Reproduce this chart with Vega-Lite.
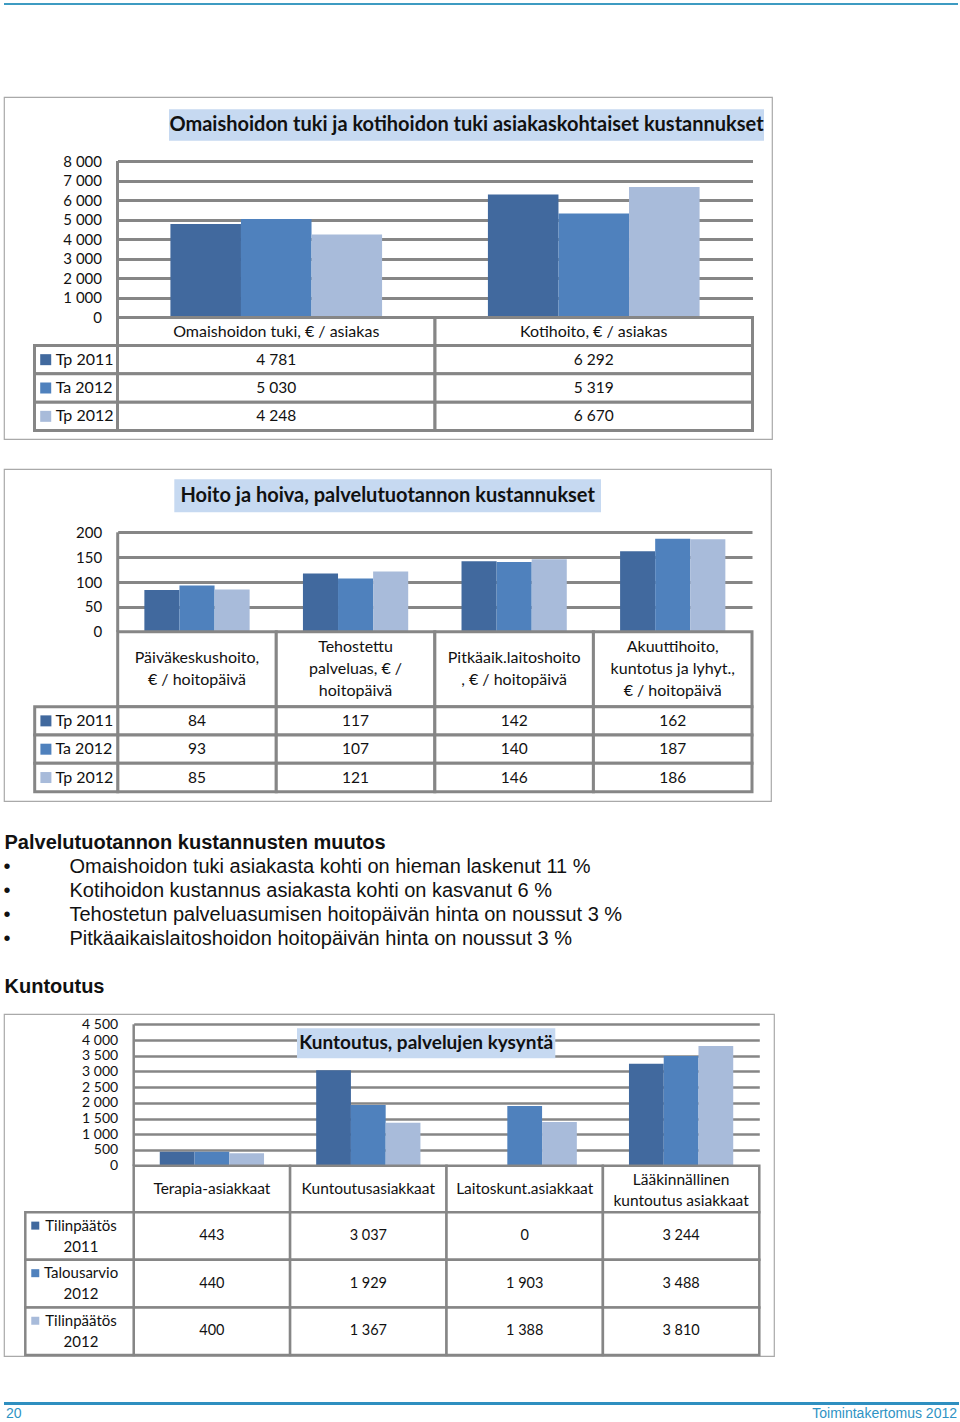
{
"$schema":"https://vega.github.io/schema/vega-lite/v6.json",
"padding":{"left":3,"top":0,"right":0,"bottom":0},
"background":"white",
"spacing":0,
"bounds":"flush",
"resolve":{"scale":{"xOffset":"independent"}},
"config":{"view":{"stroke":"#a9a9a9","strokeWidth":1.2},"locale":{"number":{"decimal":",","thousands":" ","grouping":[3],"currency":["","€"]}}},
"datasets":{
"d1":[
{"cat":"Omaishoidon tuki, € / asiakas","series":"Tp 2011","value":4781},
{"cat":"Omaishoidon tuki, € / asiakas","series":"Ta 2012","value":5030},
{"cat":"Omaishoidon tuki, € / asiakas","series":"Tp 2012","value":4248},
{"cat":"Kotihoito, € / asiakas","series":"Tp 2011","value":6292},
{"cat":"Kotihoito, € / asiakas","series":"Ta 2012","value":5319},
{"cat":"Kotihoito, € / asiakas","series":"Tp 2012","value":6670}],
"d2":[
{"cat":"Päiväkeskushoito,\n€ / hoitopäivä","series":"Tp 2011","value":84},
{"cat":"Päiväkeskushoito,\n€ / hoitopäivä","series":"Ta 2012","value":93},
{"cat":"Päiväkeskushoito,\n€ / hoitopäivä","series":"Tp 2012","value":85},
{"cat":"Tehostettu\npalveluas, € /\nhoitopäivä","series":"Tp 2011","value":117},
{"cat":"Tehostettu\npalveluas, € /\nhoitopäivä","series":"Ta 2012","value":107},
{"cat":"Tehostettu\npalveluas, € /\nhoitopäivä","series":"Tp 2012","value":121},
{"cat":"Pitkäaik.laitoshoito\n, € / hoitopäivä","series":"Tp 2011","value":142},
{"cat":"Pitkäaik.laitoshoito\n, € / hoitopäivä","series":"Ta 2012","value":140},
{"cat":"Pitkäaik.laitoshoito\n, € / hoitopäivä","series":"Tp 2012","value":146},
{"cat":"Akuuttihoito,\nkuntotus ja lyhyt.,\n€ / hoitopäivä","series":"Tp 2011","value":162},
{"cat":"Akuuttihoito,\nkuntotus ja lyhyt.,\n€ / hoitopäivä","series":"Ta 2012","value":187},
{"cat":"Akuuttihoito,\nkuntotus ja lyhyt.,\n€ / hoitopäivä","series":"Tp 2012","value":186}],
"d3":[
{"cat":"Terapia-asiakkaat","series":"Tilinpäätös\n2011","value":443},
{"cat":"Terapia-asiakkaat","series":"Talousarvio\n2012","value":440},
{"cat":"Terapia-asiakkaat","series":"Tilinpäätös\n2012","value":400},
{"cat":"Kuntoutusasiakkaat","series":"Tilinpäätös\n2011","value":3037},
{"cat":"Kuntoutusasiakkaat","series":"Talousarvio\n2012","value":1929},
{"cat":"Kuntoutusasiakkaat","series":"Tilinpäätös\n2012","value":1367},
{"cat":"Laitoskunt.asiakkaat","series":"Tilinpäätös\n2011","value":0},
{"cat":"Laitoskunt.asiakkaat","series":"Talousarvio\n2012","value":1903},
{"cat":"Laitoskunt.asiakkaat","series":"Tilinpäätös\n2012","value":1388},
{"cat":"Lääkinnällinen\nkuntoutus asiakkaat","series":"Tilinpäätös\n2011","value":3244},
{"cat":"Lääkinnällinen\nkuntoutus asiakkaat","series":"Talousarvio\n2012","value":3488},
{"cat":"Lääkinnällinen\nkuntoutus asiakkaat","series":"Tilinpäätös\n2012","value":3810}],
"bul":[
{"t":"Omaishoidon tuki asiakasta kohti on hieman laskenut 11 %"},
{"t":"Kotihoidon kustannus asiakasta kohti on kasvanut 6 %"},
{"t":"Tehostetun palveluasumisen hoitopäivän hinta on noussut 3 %"},
{"t":"Pitkäaikaislaitoshoidon hoitopäivän hinta on noussut 3 %"}],
"foot":[{"t":"20"},{"t":"Toimintakertomus 2012"}]
},
"vconcat":[
{"width":950,"height":3,"view":{"stroke":null},"data":{"values":[]},"mark":"point","encoding":{}},
{"width":954,"height":2,"view":{"stroke":null,"fill":"#3d9bc2"},"data":{"values":[]},"mark":"point","encoding":{}},
{"width":950,"height":92,"view":{"stroke":null},"data":{"values":[]},"mark":"point","encoding":{}},

{"width":768,"height":342,
"resolve":{"scale":{"x":"independent","y":"independent"}},
"layer":[
{"data":{"name":"d1"},"mark":{"type":"bar"},
"encoding":{
"x":{"field":"cat","type":"nominal","scale":{"type":"band","domain":["Omaishoidon tuki, € / asiakas","Kotihoito, € / asiakas"],"range":[113.5,748.5],"paddingInner":0,"paddingOuter":0},"axis":null},
"xOffset":{"field":"series","type":"nominal","scale":{"type":"band","domain":["Tp 2011","Ta 2012","Tp 2012"],"range":[0,317.5],"paddingInner":0,"paddingOuter":0.75}},
"y":{"field":"value","type":"quantitative","scale":{"domain":[0,8000],"range":[220.5,64],"nice":false,"zero":true},
"axis":{"values":[0,1000,2000,3000,4000,5000,6000,7000,8000],"labelExpr":"replace(format(datum.value, ','), ',', ' ')","title":null,"grid":true,"gridColor":"#868686","gridWidth":3,"domain":false,"ticks":false,"labelPadding":-97.5,"labelAlign":"right","labelFont":"Lato","labelFontSize":15,"labelColor":"#111"}},
"color":{"field":"series","type":"nominal","scale":{"domain":["Tp 2011","Ta 2012","Tp 2012","Tilinpäätös\n2011","Talousarvio\n2012","Tilinpäätös\n2012"],"range":["#41699e","#4f81bd","#a8bbda","#41699e","#4f81bd","#a8bbda"]},"legend":null}}},
{"data":{"values":[{"title":"Omaishoidon tuki ja kotihoidon tuki asiakaskohtaiset kustannukset"}]},
"mark":{"type":"rect","fill":"#c6d9f1"},
"encoding":{"x":{"field":"title","type":"nominal","scale":{"type":"band","range":[165,760],"paddingInner":0,"paddingOuter":0},"axis":null},
"y":{"field":"title","type":"nominal","scale":{"type":"band","range":[12.3,43.7],"paddingInner":0,"paddingOuter":0},"axis":null}}},
{"data":{"values":[{"title":"Omaishoidon tuki ja kotihoidon tuki asiakaskohtaiset kustannukset"}]},
"mark":{"type":"text","font":"Lato","fontSize":20,"fontWeight":"bold","color":"#111"},
"encoding":{"x":{"field":"title","type":"nominal","scale":{"type":"band","range":[165,760],"paddingInner":0,"paddingOuter":0},"axis":null},
"y":{"field":"title","type":"nominal","scale":{"type":"band","range":[12.3,43.7],"paddingInner":0,"paddingOuter":0},"axis":null},
"text":{"field":"title"}}},
{"data":{"name":"d1"},"transform":[{"filter":"datum.series==='Tp 2011'"}],
"mark":{"type":"rect","fill":"white","stroke":"#868686","strokeWidth":3},
"encoding":{"x":{"field":"cat","type":"nominal","scale":{"type":"band","domain":["Omaishoidon tuki, € / asiakas","Kotihoito, € / asiakas"],"range":[113.5,748.5],"paddingInner":0,"paddingOuter":0},"axis":null},
"y":{"datum":"hdr","type":"nominal","scale":{"type":"band","domain":["hdr"],"range":[220.5,248.5],"paddingInner":0,"paddingOuter":0},"axis":null}}},
{"data":{"name":"d1"},"transform":[{"filter":"datum.series==='Tp 2011'"}],
"mark":{"type":"text","font":"Lato","fontSize":16,"color":"#111"},
"encoding":{"x":{"field":"cat","type":"nominal","scale":{"type":"band","domain":["Omaishoidon tuki, € / asiakas","Kotihoito, € / asiakas"],"range":[113.5,748.5],"paddingInner":0,"paddingOuter":0},"axis":null},
"y":{"datum":"hdr","type":"nominal","scale":{"type":"band","domain":["hdr"],"range":[220.5,248.5],"paddingInner":0,"paddingOuter":0},"axis":null},
"text":{"field":"cat"}}},
{"data":{"name":"d1"},
"mark":{"type":"rect","fill":"white","stroke":"#868686","strokeWidth":3},
"encoding":{"x":{"field":"cat","type":"nominal","scale":{"type":"band","domain":["Omaishoidon tuki, € / asiakas","Kotihoito, € / asiakas"],"range":[113.5,748.5],"paddingInner":0,"paddingOuter":0},"axis":null},
"y":{"field":"series","type":"nominal","scale":{"type":"band","domain":["Tp 2011","Ta 2012","Tp 2012"],"range":[248.5,333.5],"paddingInner":0,"paddingOuter":0},"axis":null}}},
{"data":{"name":"d1"},
"mark":{"type":"text","font":"Lato","fontSize":15.5,"color":"#111"},
"encoding":{"x":{"field":"cat","type":"nominal","scale":{"type":"band","domain":["Omaishoidon tuki, € / asiakas","Kotihoito, € / asiakas"],"range":[113.5,748.5],"paddingInner":0,"paddingOuter":0},"axis":null},
"y":{"field":"series","type":"nominal","scale":{"type":"band","domain":["Tp 2011","Ta 2012","Tp 2012"],"range":[248.5,333.5],"paddingInner":0,"paddingOuter":0},"axis":null},
"text":{"field":"value","type":"quantitative","format":","}}},
{"data":{"name":"d1"},"transform":[{"filter":"datum.cat==='Kotihoito, € / asiakas'"}],
"mark":{"type":"rect","fill":"white","stroke":"#868686","strokeWidth":3},
"encoding":{"x":{"datum":"lab","type":"nominal","scale":{"type":"band","domain":["lab"],"range":[30.5,113.5],"paddingInner":0,"paddingOuter":0},"axis":null},
"y":{"field":"series","type":"nominal","scale":{"type":"band","domain":["Tp 2011","Ta 2012","Tp 2012"],"range":[248.5,333.5],"paddingInner":0,"paddingOuter":0},"axis":null}}},
{"data":{"name":"d1"},"transform":[{"filter":"datum.cat==='Kotihoito, € / asiakas'"}],
"mark":{"type":"point","shape":"square","filled":true,"opacity":1,"size":121},
"encoding":{"x":{"datum":"lab","type":"nominal","bandPosition":0.135,"scale":{"type":"band","domain":["lab"],"range":[30.5,113.5],"paddingInner":0,"paddingOuter":0},"axis":null},
"y":{"field":"series","type":"nominal","scale":{"type":"band","domain":["Tp 2011","Ta 2012","Tp 2012"],"range":[248.5,333.5],"paddingInner":0,"paddingOuter":0},"axis":null},
"color":{"field":"series","type":"nominal","scale":{"domain":["Tp 2011","Ta 2012","Tp 2012","Tilinpäätös\n2011","Talousarvio\n2012","Tilinpäätös\n2012"],"range":["#41699e","#4f81bd","#a8bbda","#41699e","#4f81bd","#a8bbda"]},"legend":null}}},
{"data":{"name":"d1"},"transform":[{"filter":"datum.cat==='Kotihoito, € / asiakas'"}],
"mark":{"type":"text","align":"left","font":"Lato","fontSize":16,"color":"#111"},
"encoding":{"x":{"datum":"lab","type":"nominal","bandPosition":0.255,"scale":{"type":"band","domain":["lab"],"range":[30.5,113.5],"paddingInner":0,"paddingOuter":0},"axis":null},
"y":{"field":"series","type":"nominal","scale":{"type":"band","domain":["Tp 2011","Ta 2012","Tp 2012"],"range":[248.5,333.5],"paddingInner":0,"paddingOuter":0},"axis":null},
"text":{"field":"series"}}},
{"data":{"name":"d1"},"transform":[{"filter":"datum.series==='Tp 2011'"},{"filter":"datum.cat==='Omaishoidon tuki, € / asiakas'"}],
"mark":{"type":"rule","color":"#868686","strokeWidth":3},
"encoding":{"x":{"field":"cat","type":"nominal","bandPosition":0,"scale":{"type":"band","domain":["Omaishoidon tuki, € / asiakas","Kotihoito, € / asiakas"],"range":[113.5,748.5],"paddingInner":0,"paddingOuter":0},"axis":null},
"y":{"datum":0,"type":"quantitative","scale":{"domain":[0,8000],"range":[220.5,64],"nice":false,"zero":true},"axis":null},
"y2":{"datum":8000}}}
]},

{"width":950,"height":30,"view":{"stroke":null},"data":{"values":[]},"mark":"point","encoding":{}},

{"width":767,"height":332,
"resolve":{"scale":{"x":"independent","y":"independent"}},
"layer":[
{"data":{"name":"d2"},"mark":{"type":"bar"},
"encoding":{
"x":{"field":"cat","type":"nominal","scale":{"type":"band","domain":["Päiväkeskushoito,\n€ / hoitopäivä","Tehostettu\npalveluas, € /\nhoitopäivä","Pitkäaik.laitoshoito\n, € / hoitopäivä","Akuuttihoito,\nkuntotus ja lyhyt.,\n€ / hoitopäivä"],"range":[113.7,748],"paddingInner":0,"paddingOuter":0},"axis":null},
"xOffset":{"field":"series","type":"nominal","scale":{"type":"band","domain":["Tp 2011","Ta 2012","Tp 2012"],"range":[0,158.6],"paddingInner":0,"paddingOuter":0.76}},
"y":{"field":"value","type":"quantitative","scale":{"domain":[0,200],"range":[162.7,63.3],"nice":false,"zero":true},
"axis":{"values":[0,50,100,150,200],"labelExpr":"replace(format(datum.value, ','), ',', ' ')","title":null,"grid":true,"gridColor":"#868686","gridWidth":3,"domain":false,"ticks":false,"labelPadding":-97.7,"labelAlign":"right","labelFont":"Lato","labelFontSize":15,"labelColor":"#111"}},
"color":{"field":"series","type":"nominal","scale":{"domain":["Tp 2011","Ta 2012","Tp 2012","Tilinpäätös\n2011","Talousarvio\n2012","Tilinpäätös\n2012"],"range":["#41699e","#4f81bd","#a8bbda","#41699e","#4f81bd","#a8bbda"]},"legend":null}}},
{"data":{"values":[{"title":"Hoito ja hoiva, palvelutuotannon kustannukset"}]},
"mark":{"type":"rect","fill":"#c6d9f1"},
"encoding":{"x":{"field":"title","type":"nominal","scale":{"type":"band","range":[170.3,597],"paddingInner":0,"paddingOuter":0},"axis":null},
"y":{"field":"title","type":"nominal","scale":{"type":"band","range":[10.3,43.3],"paddingInner":0,"paddingOuter":0},"axis":null}}},
{"data":{"values":[{"title":"Hoito ja hoiva, palvelutuotannon kustannukset"}]},
"mark":{"type":"text","font":"Lato","fontSize":20,"fontWeight":"bold","color":"#111"},
"encoding":{"x":{"field":"title","type":"nominal","scale":{"type":"band","range":[170.3,597],"paddingInner":0,"paddingOuter":0},"axis":null},
"y":{"field":"title","type":"nominal","scale":{"type":"band","range":[10.3,43.3],"paddingInner":0,"paddingOuter":0},"axis":null},
"text":{"field":"title"}}},
{"data":{"name":"d2"},"transform":[{"filter":"datum.series==='Tp 2011'"}],
"mark":{"type":"rect","fill":"white","stroke":"#868686","strokeWidth":3},
"encoding":{"x":{"field":"cat","type":"nominal","scale":{"type":"band","domain":["Päiväkeskushoito,\n€ / hoitopäivä","Tehostettu\npalveluas, € /\nhoitopäivä","Pitkäaik.laitoshoito\n, € / hoitopäivä","Akuuttihoito,\nkuntotus ja lyhyt.,\n€ / hoitopäivä"],"range":[113.7,748],"paddingInner":0,"paddingOuter":0},"axis":null},
"y":{"datum":"hdr","type":"nominal","scale":{"type":"band","domain":["hdr"],"range":[162.7,237.7],"paddingInner":0,"paddingOuter":0},"axis":null}}},
{"data":{"name":"d2"},"transform":[{"filter":"datum.series==='Tp 2011'"},{"filter":{"field":"cat","oneOf":["Päiväkeskushoito,\n€ / hoitopäivä","Pitkäaik.laitoshoito\n, € / hoitopäivä"]}}],
"mark":{"type":"text","font":"Lato","fontSize":16,"color":"#111","lineBreak":"\n","lineHeight":22},
"encoding":{"x":{"field":"cat","type":"nominal","scale":{"type":"band","domain":["Päiväkeskushoito,\n€ / hoitopäivä","Tehostettu\npalveluas, € /\nhoitopäivä","Pitkäaik.laitoshoito\n, € / hoitopäivä","Akuuttihoito,\nkuntotus ja lyhyt.,\n€ / hoitopäivä"],"range":[113.7,748],"paddingInner":0,"paddingOuter":0},"axis":null},
"y":{"datum":"hdr","type":"nominal","bandPosition":0.35,"scale":{"type":"band","domain":["hdr"],"range":[162.7,237.7],"paddingInner":0,"paddingOuter":0},"axis":null},
"text":{"field":"cat"}}},
{"data":{"name":"d2"},"transform":[{"filter":"datum.series==='Tp 2011'"},{"filter":{"field":"cat","oneOf":["Tehostettu\npalveluas, € /\nhoitopäivä","Akuuttihoito,\nkuntotus ja lyhyt.,\n€ / hoitopäivä"]}}],
"mark":{"type":"text","font":"Lato","fontSize":16,"color":"#111","lineBreak":"\n","lineHeight":22},
"encoding":{"x":{"field":"cat","type":"nominal","scale":{"type":"band","domain":["Päiväkeskushoito,\n€ / hoitopäivä","Tehostettu\npalveluas, € /\nhoitopäivä","Pitkäaik.laitoshoito\n, € / hoitopäivä","Akuuttihoito,\nkuntotus ja lyhyt.,\n€ / hoitopäivä"],"range":[113.7,748],"paddingInner":0,"paddingOuter":0},"axis":null},
"y":{"datum":"hdr","type":"nominal","bandPosition":0.205,"scale":{"type":"band","domain":["hdr"],"range":[162.7,237.7],"paddingInner":0,"paddingOuter":0},"axis":null},
"text":{"field":"cat"}}},
{"data":{"name":"d2"},
"mark":{"type":"rect","fill":"white","stroke":"#868686","strokeWidth":3},
"encoding":{"x":{"field":"cat","type":"nominal","scale":{"type":"band","domain":["Päiväkeskushoito,\n€ / hoitopäivä","Tehostettu\npalveluas, € /\nhoitopäivä","Pitkäaik.laitoshoito\n, € / hoitopäivä","Akuuttihoito,\nkuntotus ja lyhyt.,\n€ / hoitopäivä"],"range":[113.7,748],"paddingInner":0,"paddingOuter":0},"axis":null},
"y":{"field":"series","type":"nominal","scale":{"type":"band","domain":["Tp 2011","Ta 2012","Tp 2012"],"range":[237.7,322.7],"paddingInner":0,"paddingOuter":0},"axis":null}}},
{"data":{"name":"d2"},
"mark":{"type":"text","font":"Lato","fontSize":15.5,"color":"#111"},
"encoding":{"x":{"field":"cat","type":"nominal","scale":{"type":"band","domain":["Päiväkeskushoito,\n€ / hoitopäivä","Tehostettu\npalveluas, € /\nhoitopäivä","Pitkäaik.laitoshoito\n, € / hoitopäivä","Akuuttihoito,\nkuntotus ja lyhyt.,\n€ / hoitopäivä"],"range":[113.7,748],"paddingInner":0,"paddingOuter":0},"axis":null},
"y":{"field":"series","type":"nominal","scale":{"type":"band","domain":["Tp 2011","Ta 2012","Tp 2012"],"range":[237.7,322.7],"paddingInner":0,"paddingOuter":0},"axis":null},
"text":{"field":"value","type":"quantitative","format":","}}},
{"data":{"name":"d2"},"transform":[{"filter":{"field":"cat","equal":"Päiväkeskushoito,\n€ / hoitopäivä"}}],
"mark":{"type":"rect","fill":"white","stroke":"#868686","strokeWidth":3},
"encoding":{"x":{"datum":"lab","type":"nominal","scale":{"type":"band","domain":["lab"],"range":[30.7,113.7],"paddingInner":0,"paddingOuter":0},"axis":null},
"y":{"field":"series","type":"nominal","scale":{"type":"band","domain":["Tp 2011","Ta 2012","Tp 2012"],"range":[237.7,322.7],"paddingInner":0,"paddingOuter":0},"axis":null}}},
{"data":{"name":"d2"},"transform":[{"filter":{"field":"cat","equal":"Päiväkeskushoito,\n€ / hoitopäivä"}}],
"mark":{"type":"point","shape":"square","filled":true,"opacity":1,"size":121},
"encoding":{"x":{"datum":"lab","type":"nominal","bandPosition":0.135,"scale":{"type":"band","domain":["lab"],"range":[30.7,113.7],"paddingInner":0,"paddingOuter":0},"axis":null},
"y":{"field":"series","type":"nominal","scale":{"type":"band","domain":["Tp 2011","Ta 2012","Tp 2012"],"range":[237.7,322.7],"paddingInner":0,"paddingOuter":0},"axis":null},
"color":{"field":"series","type":"nominal","scale":{"domain":["Tp 2011","Ta 2012","Tp 2012","Tilinpäätös\n2011","Talousarvio\n2012","Tilinpäätös\n2012"],"range":["#41699e","#4f81bd","#a8bbda","#41699e","#4f81bd","#a8bbda"]},"legend":null}}},
{"data":{"name":"d2"},"transform":[{"filter":{"field":"cat","equal":"Päiväkeskushoito,\n€ / hoitopäivä"}}],
"mark":{"type":"text","align":"left","font":"Lato","fontSize":16,"color":"#111"},
"encoding":{"x":{"datum":"lab","type":"nominal","bandPosition":0.25,"scale":{"type":"band","domain":["lab"],"range":[30.7,113.7],"paddingInner":0,"paddingOuter":0},"axis":null},
"y":{"field":"series","type":"nominal","scale":{"type":"band","domain":["Tp 2011","Ta 2012","Tp 2012"],"range":[237.7,322.7],"paddingInner":0,"paddingOuter":0},"axis":null},
"text":{"field":"series"}}},
{"data":{"name":"d2"},"transform":[{"filter":"datum.series==='Tp 2011'"},{"filter":{"field":"cat","equal":"Päiväkeskushoito,\n€ / hoitopäivä"}}],
"mark":{"type":"rule","color":"#868686","strokeWidth":3},
"encoding":{"x":{"field":"cat","type":"nominal","bandPosition":0,"scale":{"type":"band","domain":["Päiväkeskushoito,\n€ / hoitopäivä","Tehostettu\npalveluas, € /\nhoitopäivä","Pitkäaik.laitoshoito\n, € / hoitopäivä","Akuuttihoito,\nkuntotus ja lyhyt.,\n€ / hoitopäivä"],"range":[113.7,748],"paddingInner":0,"paddingOuter":0},"axis":null},
"y":{"datum":0,"type":"quantitative","scale":{"domain":[0,200],"range":[162.7,63.3],"nice":false,"zero":true},"axis":null},
"y2":{"datum":200}}}
]},

{"width":950,"height":30,"view":{"stroke":null},"data":{"values":[]},"mark":"point","encoding":{}},
{"width":1,"height":24,"view":{"stroke":null},"data":{"values":[{"t":"Palvelutuotannon kustannusten muutos"}]},
"mark":{"type":"text","align":"left","font":"Liberation Sans","fontSize":20,"fontWeight":"bold","color":"#111"},"encoding":{"text":{"field":"t"}}},
{"width":6,"height":96,"view":{"stroke":null},"data":{"name":"bul"},
"mark":{"type":"text","font":"Liberation Sans","fontSize":20,"color":"#111"},
"encoding":{"y":{"field":"t","type":"nominal","sort":null,"scale":{"type":"band","paddingInner":0,"paddingOuter":0},
"axis":{"orient":"right","title":null,"domain":false,"ticks":false,"labelPadding":59,"labelAlign":"left","labelLimit":0,"labelFont":"Liberation Sans","labelFontSize":20,"labelColor":"#111"}},
"text":{"value":"•"}}},
{"width":950,"height":24,"view":{"stroke":null},"data":{"values":[]},"mark":"point","encoding":{}},
{"width":1,"height":24,"view":{"stroke":null},"data":{"values":[{"t":"Kuntoutus"}]},
"mark":{"type":"text","align":"left","font":"Liberation Sans","fontSize":20,"fontWeight":"bold","color":"#111"},"encoding":{"text":{"field":"t"}}},
{"width":950,"height":15,"view":{"stroke":null},"data":{"values":[]},"mark":"point","encoding":{}},

{"width":770,"height":342,
"resolve":{"scale":{"x":"independent","y":"independent"}},
"layer":[
{"data":{"name":"d3"},"mark":{"type":"bar"},
"encoding":{
"x":{"field":"cat","type":"nominal","scale":{"type":"band","domain":["Terapia-asiakkaat","Kuntoutusasiakkaat","Laitoskunt.asiakkaat","Lääkinnällinen\nkuntoutus asiakkaat"],"range":[129.7,755.3],"paddingInner":0,"paddingOuter":0},"axis":null},
"xOffset":{"field":"series","type":"nominal","scale":{"type":"band","domain":["Tilinpäätös\n2011","Talousarvio\n2012","Tilinpäätös\n2012"],"range":[0,156.4],"paddingInner":0,"paddingOuter":0.75}},
"y":{"field":"value","type":"quantitative","scale":{"domain":[0,4500],"range":[151.7,10.3],"nice":false,"zero":true},
"axis":{"values":[0,500,1000,1500,2000,2500,3000,3500,4000,4500],"labelExpr":"replace(format(datum.value, ','), ',', ' ')","title":null,"grid":true,"gridColor":"#868686","gridWidth":2.5,"domain":false,"ticks":false,"labelPadding":-113.7,"labelAlign":"right","labelFont":"Lato","labelFontSize":14,"labelColor":"#111"}},
"color":{"field":"series","type":"nominal","scale":{"domain":["Tp 2011","Ta 2012","Tp 2012","Tilinpäätös\n2011","Talousarvio\n2012","Tilinpäätös\n2012"],"range":["#41699e","#4f81bd","#a8bbda","#41699e","#4f81bd","#a8bbda"]},"legend":null}}},
{"data":{"values":[{"title":"Kuntoutus, palvelujen kysyntä"}]},
"mark":{"type":"rect","fill":"#c6d9f1"},
"encoding":{"x":{"field":"title","type":"nominal","scale":{"type":"band","range":[293,551.3],"paddingInner":0,"paddingOuter":0},"axis":null},
"y":{"field":"title","type":"nominal","scale":{"type":"band","range":[14.3,44.3],"paddingInner":0,"paddingOuter":0},"axis":null}}},
{"data":{"values":[{"title":"Kuntoutus, palvelujen kysyntä"}]},
"mark":{"type":"text","font":"Lato","fontSize":19,"fontWeight":"bold","color":"#111"},
"encoding":{"x":{"field":"title","type":"nominal","scale":{"type":"band","range":[293,551.3],"paddingInner":0,"paddingOuter":0},"axis":null},
"y":{"field":"title","type":"nominal","scale":{"type":"band","range":[14.3,44.3],"paddingInner":0,"paddingOuter":0},"axis":null},
"text":{"field":"title"}}},
{"data":{"name":"d3"},"transform":[{"filter":{"field":"series","equal":"Tilinpäätös\n2011"}}],
"mark":{"type":"rect","fill":"white","stroke":"#868686","strokeWidth":2.5},
"encoding":{"x":{"field":"cat","type":"nominal","scale":{"type":"band","domain":["Terapia-asiakkaat","Kuntoutusasiakkaat","Laitoskunt.asiakkaat","Lääkinnällinen\nkuntoutus asiakkaat"],"range":[129.7,755.3],"paddingInner":0,"paddingOuter":0},"axis":null},
"y":{"datum":"hdr","type":"nominal","scale":{"type":"band","domain":["hdr"],"range":[151.7,198.3],"paddingInner":0,"paddingOuter":0},"axis":null}}},
{"data":{"name":"d3"},"transform":[{"filter":{"field":"series","equal":"Tilinpäätös\n2011"}},{"filter":{"field":"cat","oneOf":["Terapia-asiakkaat","Kuntoutusasiakkaat","Laitoskunt.asiakkaat"]}}],
"mark":{"type":"text","font":"Lato","fontSize":15.5,"color":"#111"},
"encoding":{"x":{"field":"cat","type":"nominal","scale":{"type":"band","domain":["Terapia-asiakkaat","Kuntoutusasiakkaat","Laitoskunt.asiakkaat","Lääkinnällinen\nkuntoutus asiakkaat"],"range":[129.7,755.3],"paddingInner":0,"paddingOuter":0},"axis":null},
"y":{"datum":"hdr","type":"nominal","scale":{"type":"band","domain":["hdr"],"range":[151.7,198.3],"paddingInner":0,"paddingOuter":0},"axis":null},
"text":{"field":"cat"}}},
{"data":{"name":"d3"},"transform":[{"filter":{"field":"series","equal":"Tilinpäätös\n2011"}},{"filter":{"field":"cat","equal":"Lääkinnällinen\nkuntoutus asiakkaat"}}],
"mark":{"type":"text","font":"Lato","fontSize":15.5,"color":"#111","lineBreak":"\n","lineHeight":21},
"encoding":{"x":{"field":"cat","type":"nominal","scale":{"type":"band","domain":["Terapia-asiakkaat","Kuntoutusasiakkaat","Laitoskunt.asiakkaat","Lääkinnällinen\nkuntoutus asiakkaat"],"range":[129.7,755.3],"paddingInner":0,"paddingOuter":0},"axis":null},
"y":{"datum":"hdr","type":"nominal","bandPosition":0.3,"scale":{"type":"band","domain":["hdr"],"range":[151.7,198.3],"paddingInner":0,"paddingOuter":0},"axis":null},
"text":{"field":"cat"}}},
{"data":{"name":"d3"},
"mark":{"type":"rect","fill":"white","stroke":"#868686","strokeWidth":2.5},
"encoding":{"x":{"field":"cat","type":"nominal","scale":{"type":"band","domain":["Terapia-asiakkaat","Kuntoutusasiakkaat","Laitoskunt.asiakkaat","Lääkinnällinen\nkuntoutus asiakkaat"],"range":[129.7,755.3],"paddingInner":0,"paddingOuter":0},"axis":null},
"y":{"field":"series","type":"nominal","scale":{"type":"band","domain":["Tilinpäätös\n2011","Talousarvio\n2012","Tilinpäätös\n2012"],"range":[198.3,341],"paddingInner":0,"paddingOuter":0},"axis":null}}},
{"data":{"name":"d3"},
"mark":{"type":"text","font":"Lato","fontSize":14.5,"color":"#111"},
"encoding":{"x":{"field":"cat","type":"nominal","scale":{"type":"band","domain":["Terapia-asiakkaat","Kuntoutusasiakkaat","Laitoskunt.asiakkaat","Lääkinnällinen\nkuntoutus asiakkaat"],"range":[129.7,755.3],"paddingInner":0,"paddingOuter":0},"axis":null},
"y":{"field":"series","type":"nominal","scale":{"type":"band","domain":["Tilinpäätös\n2011","Talousarvio\n2012","Tilinpäätös\n2012"],"range":[198.3,341],"paddingInner":0,"paddingOuter":0},"axis":null},
"text":{"field":"value","type":"quantitative","format":","}}},
{"data":{"name":"d3"},"transform":[{"filter":{"field":"cat","equal":"Terapia-asiakkaat"}}],
"mark":{"type":"rect","fill":"white","stroke":"#868686","strokeWidth":2.5},
"encoding":{"x":{"datum":"lab","type":"nominal","scale":{"type":"band","domain":["lab"],"range":[21.3,129.7],"paddingInner":0,"paddingOuter":0},"axis":null},
"y":{"field":"series","type":"nominal","scale":{"type":"band","domain":["Tilinpäätös\n2011","Talousarvio\n2012","Tilinpäätös\n2012"],"range":[198.3,341],"paddingInner":0,"paddingOuter":0},"axis":null}}},
{"data":{"name":"d3"},"transform":[{"filter":{"field":"cat","equal":"Terapia-asiakkaat"}}],
"mark":{"type":"point","shape":"square","filled":true,"opacity":1,"size":64},
"encoding":{"x":{"datum":"lab","type":"nominal","bandPosition":0.092,"scale":{"type":"band","domain":["lab"],"range":[21.3,129.7],"paddingInner":0,"paddingOuter":0},"axis":null},
"y":{"field":"series","type":"nominal","bandPosition":0.28,"scale":{"type":"band","domain":["Tilinpäätös\n2011","Talousarvio\n2012","Tilinpäätös\n2012"],"range":[198.3,341],"paddingInner":0,"paddingOuter":0},"axis":null},
"color":{"field":"series","type":"nominal","scale":{"domain":["Tp 2011","Ta 2012","Tp 2012","Tilinpäätös\n2011","Talousarvio\n2012","Tilinpäätös\n2012"],"range":["#41699e","#4f81bd","#a8bbda","#41699e","#4f81bd","#a8bbda"]},"legend":null}}},
{"data":{"name":"d3"},"transform":[{"filter":{"field":"cat","equal":"Terapia-asiakkaat"}}],
"mark":{"type":"text","font":"Lato","fontSize":15,"color":"#111","lineBreak":"\n","lineHeight":21,"dx":1.5},
"encoding":{"x":{"datum":"lab","type":"nominal","scale":{"type":"band","domain":["lab"],"range":[21.3,129.7],"paddingInner":0,"paddingOuter":0},"axis":null},
"y":{"field":"series","type":"nominal","bandPosition":0.28,"scale":{"type":"band","domain":["Tilinpäätös\n2011","Talousarvio\n2012","Tilinpäätös\n2012"],"range":[198.3,341],"paddingInner":0,"paddingOuter":0},"axis":null},
"text":{"field":"series"}}},
{"data":{"name":"d3"},"transform":[{"filter":{"field":"series","equal":"Tilinpäätös\n2011"}},{"filter":{"field":"cat","equal":"Terapia-asiakkaat"}}],
"mark":{"type":"rule","color":"#868686","strokeWidth":2.5},
"encoding":{"x":{"field":"cat","type":"nominal","bandPosition":0,"scale":{"type":"band","domain":["Terapia-asiakkaat","Kuntoutusasiakkaat","Laitoskunt.asiakkaat","Lääkinnällinen\nkuntoutus asiakkaat"],"range":[129.7,755.3],"paddingInner":0,"paddingOuter":0},"axis":null},
"y":{"datum":0,"type":"quantitative","scale":{"domain":[0,4500],"range":[151.7,10.3],"nice":false,"zero":true},"axis":null},
"y2":{"datum":4500}}}
]},

{"width":950,"height":46,"view":{"stroke":null},"data":{"values":[]},"mark":"point","encoding":{}},
{"width":955,"height":3,"view":{"stroke":null,"fill":"#2f8fc0"},"data":{"values":[]},"mark":"point","encoding":{}},
{"width":953,"height":17,"view":{"stroke":null},"data":{"name":"foot"},
"encoding":{"x":{"field":"t","type":"nominal","scale":{"type":"point","padding":0,"domain":["20","Toimintakertomus 2012"]},"axis":null},"text":{"field":"t"}},
"layer":[
{"transform":[{"filter":"datum.t==='20'"}],"mark":{"type":"text","align":"left","font":"Liberation Sans Narrow, Liberation Sans","fontSize":14,"color":"#2f93c4","dx":2}},
{"transform":[{"filter":"datum.t!=='20'"}],"mark":{"type":"text","align":"right","font":"Liberation Sans Narrow, Liberation Sans","fontSize":14,"color":"#2f93c4"}}
]}
]
}
